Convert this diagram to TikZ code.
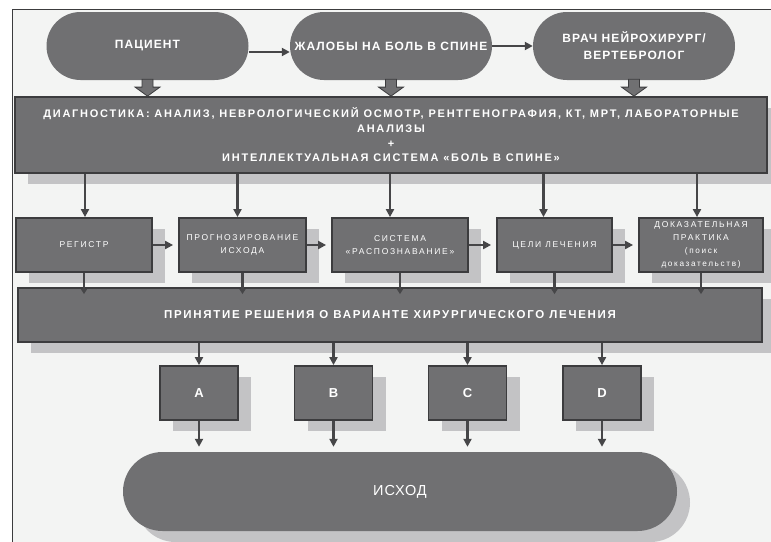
\documentclass[tikz,border=0pt]{standalone}
\usepackage{fontspec}
\setmainfont{Liberation Sans}
\newfontfamily\ftop{Liberation Sans}[LetterSpace=9]
\newfontfamily\fdiag{Liberation Sans}[LetterSpace=16]
\newfontfamily\fdec{Liberation Sans}[LetterSpace=15]
\newfontfamily\frow{Liberation Sans}[LetterSpace=20]
\newfontfamily\fout{Liberation Sans}[LetterSpace=6]
\usetikzlibrary{arrows.meta,calc,shadows}
\definecolor{boxgray}{RGB}{112,112,114}
\definecolor{edgegray}{RGB}{60,60,62}
\definecolor{shgray}{RGB}{195,195,197}
\definecolor{bggray}{RGB}{243,244,243}
\definecolor{arrgray}{RGB}{70,70,72}
\begin{document}
\begin{tikzpicture}[x=1pt,y=-1pt,
  topstad/.style={fill=boxgray, draw=none, rounded corners=34pt, minimum width=202pt,
    minimum height=68pt, text=white, align=center, inner sep=0pt,
    font=\ftop\bfseries\fontsize{12}{17}\selectfont},
  bigbox/.style={fill=boxgray, draw=edgegray, line width=1.8pt, text=white, align=center,
    inner sep=0pt, drop shadow={shadow xshift=13pt, shadow yshift=-11pt, fill=shgray, opacity=1}},
  rowbox/.style={bigbox, minimum height=54pt, font=\frow\fontsize{8.5}{13}\selectfont},
  letterbox/.style={bigbox, minimum width=78pt, minimum height=54pt, font=\bfseries\fontsize{13}{15}\selectfont},
  conn/.style={draw=arrgray, line width=2.2pt, -{Triangle[length=8pt,width=8pt]}},
  connsmall/.style={draw=arrgray, line width=2.2pt, -{Triangle[length=5pt,width=6pt]}},
  blk/.style={fill=boxgray, draw=edgegray, line width=0.8pt}]
\useasboundingbox (0,0) rectangle (771,541);
\draw[fill=bggray, draw=edgegray, line width=0.8pt] (12,9) rectangle (800,580);

\node[topstad] (pac) at (147.5,46) {ПАЦИЕНТ};
\node[topstad] (zhal) at (391,46) {ЖАЛОБЫ НА БОЛЬ В СПИНЕ};
\node[topstad] (vrach) at (634,46) {ВРАЧ НЕЙРОХИРУРГ/\\ВЕРТЕБРОЛОГ};

\node[bigbox, minimum width=752pt, minimum height=76pt,
  font=\fdiag\bfseries\fontsize{11}{14.7}\selectfont] (diag) at (391,135)
  {ДИАГНОСТИКА: АНАЛИЗ, НЕВРОЛОГИЧЕСКИЙ ОСМОТР, РЕНТГЕНОГРАФИЯ, КТ, МРТ, ЛАБОРАТОРНЫЕ\\АНАЛИЗЫ\\+\\ИНТЕЛЛЕКТУАЛЬНАЯ СИСТЕМА «БОЛЬ В СПИНЕ»};

\node[rowbox, minimum width=136pt] (reg) at (84,245) {РЕГИСТР};
\node[rowbox, minimum width=127pt] (prog) at (242.5,245) {ПРОГНОЗИРОВАНИЕ\\ИСХОДА};
\node[rowbox, minimum width=136pt] (sys) at (400,245) {СИСТЕМА\\«РАСПОЗНАВАНИЕ»};
\node[rowbox, minimum width=115pt] (goal) at (554.5,245) {ЦЕЛИ ЛЕЧЕНИЯ};
\node[rowbox, minimum width=124pt] (dok) at (701,245)
  {ДОКАЗАТЕЛЬНАЯ\\ПРАКТИКА\\{\fontsize{8.2}{11}\selectfont (поиск}\\{\fontsize{8.2}{11}\selectfont доказательств)}};

\node[bigbox, minimum width=744pt, minimum height=54pt,
  font=\fdec\bfseries\fontsize{11.5}{14}\selectfont] (dec) at (390,315)
  {ПРИНЯТИЕ РЕШЕНИЯ О ВАРИАНТЕ ХИРУРГИЧЕСКОГО ЛЕЧЕНИЯ};

\node[letterbox] (A) at (199,393) {A};
\node[letterbox] (B) at (333.5,393) {B};
\node[letterbox] (C) at (467.5,393) {C};
\node[letterbox] (D) at (602,393) {D};

\node[fill=boxgray, rounded corners=39.5pt, minimum width=554pt, minimum height=79pt,
  text=white, inner sep=0pt, font=\fout\fontsize{14.5}{16}\selectfont,
  drop shadow={shadow xshift=13pt, shadow yshift=-11pt, fill=shgray, opacity=1}]
  (out) at (400,491.5) {ИСХОД};

% top connectors
\draw[conn] ($(pac.east)+(0,6)$) -- ($(zhal.west)+(0,6)$);
\draw[conn] (zhal.east) -- (vrach.west);
\foreach \n in {pac,zhal,vrach} {
  \path (\n.south) coordinate (s) (\n.south |- diag.north) coordinate (e);
  \draw[blk] ($(s)+(-5.5,-1)$) -- ($(e)+(-5.5,-9)$) -- ($(e)+(-12.5,-9)$) -- (e)
    -- ($(e)+(12.5,-9)$) -- ($(e)+(5.5,-9)$) -- ($(s)+(5.5,-1)$) -- cycle;
}
% diag to row
\foreach \n/\dx in {reg/1,prog/-5,sys/-10,goal/-11,dok/-4} {
  \path ($(\n.north)+(\dx,0)$) coordinate (t);
  \draw[conn] (t |- diag.south) -- (t);
}
% row horizontal
\foreach \a/\b in {reg/prog,prog/sys,sys/goal,goal/dok}
  \draw[conn, shorten >=5pt] (\a.east) -- (\b.west);
% row to decision
\foreach \n in {reg,prog,sys,goal,dok} {
  \path (\n.south |- dec.north) coordinate (t);
  \draw[connsmall] (\n.south) -- ($(t)+(0,7)$);
}
% decision to letters, letters to outcome
\foreach \n in {A,B,C,D} {
  \draw[conn] (dec.south -| \n.north) -- (\n.north);
  \draw[conn, shorten >=5pt] (\n.south) -- (\n.south |- out.north);
}
\end{tikzpicture}
\end{document}
